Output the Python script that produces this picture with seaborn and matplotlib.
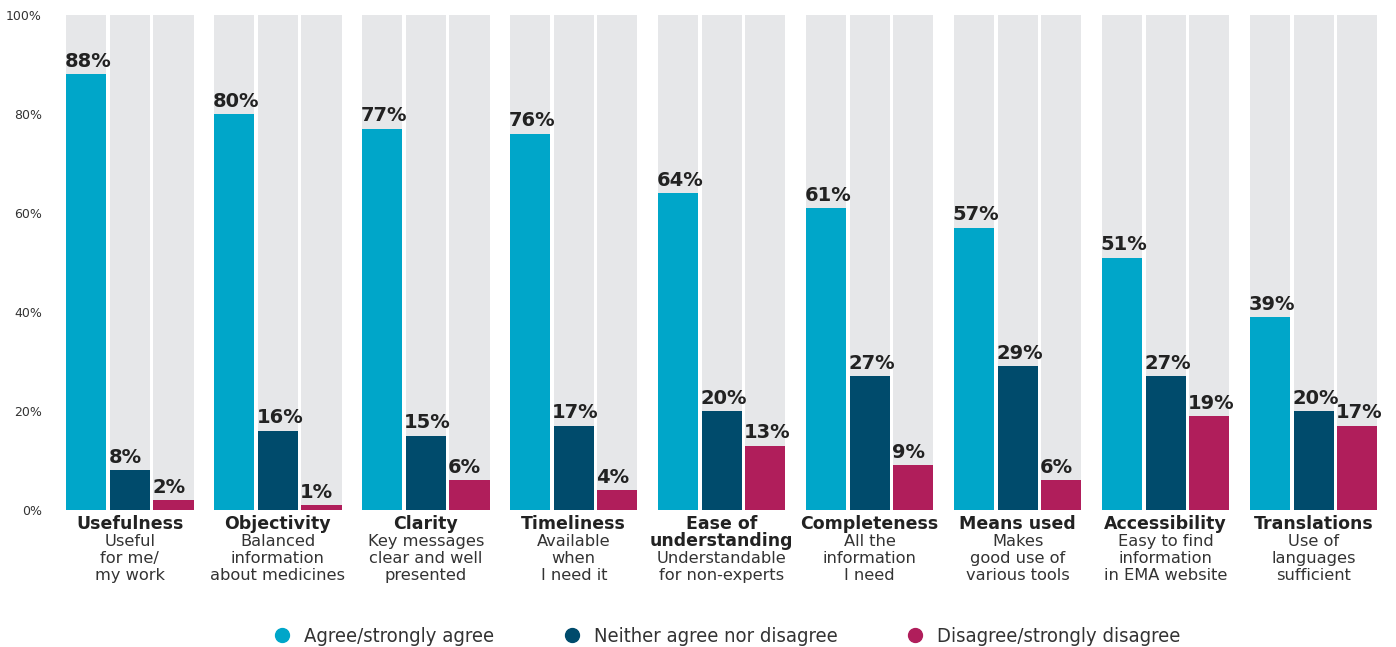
import matplotlib
matplotlib.use("Agg")
import matplotlib.pyplot as plt
from matplotlib.lines import Line2D
import seaborn as sns
import pandas as pd

# Survey results per quality aspect (% of respondents)
aspects = ["Usefulness", "Objectivity", "Clarity", "Timeliness",
           "Ease of understanding", "Completeness", "Means used",
           "Accessibility", "Translations"]
title_lines = [["Usefulness"], ["Objectivity"], ["Clarity"], ["Timeliness"],
               ["Ease of", "understanding"], ["Completeness"], ["Means used"],
               ["Accessibility"], ["Translations"]]
sub_lines = [["Useful", "for me/", "my work"],
             ["Balanced", "information", "about medicines"],
             ["Key messages", "clear and well", "presented"],
             ["Available", "when", "I need it"],
             ["Understandable", "for non-experts"],
             ["All the", "information", "I need"],
             ["Makes", "good use of", "various tools"],
             ["Easy to find", "information", "in EMA website"],
             ["Use of", "languages", "sufficient"]]
responses = ["Agree/strongly agree", "Neither agree nor disagree",
             "Disagree/strongly disagree"]
agree = [88, 80, 77, 76, 64, 61, 57, 51, 39]
neither = [8, 16, 15, 17, 20, 27, 29, 27, 20]
disagree = [2, 1, 6, 4, 13, 9, 6, 19, 17]
yticks = [0, 20, 40, 60, 80, 100]

colors = ["#00A6C9", "#004B6C", "#B01E5B"]
bg_color = "#E6E7E9"
text_color = "#222222"

rows = []
for i, a in enumerate(aspects):
    for r, vals in zip(responses, [agree, neither, disagree]):
        rows.append({"aspect": a, "response": r, "value": vals[i], "full": 100})
df = pd.DataFrame(rows)

sns.set_theme(style="white")
plt.rcParams["font.family"] = ["DejaVu Sans"]

fig = plt.figure(figsize=(13.96, 6.47), dpi=100)
ax = fig.add_axes([0.0400, 0.2117, 0.9540, 0.7651])

common = dict(data=df, x="aspect", hue="response", order=aspects,
              hue_order=responses, width=0.885, gap=0.08, ax=ax,
              saturation=1, linewidth=0)
sns.barplot(y="full", palette=[bg_color] * 3, legend=False, **common)
n_bg = len(ax.containers)
sns.barplot(y="value", palette=colors, legend=False, **common)

# value labels, left-aligned to each bar
for cont in ax.containers[n_bg:]:
    for patch in cont.patches:
        h = patch.get_height()
        ax.annotate(f"{h:.0f}%", (patch.get_x(), h), xytext=(-1, 2.5),
                    textcoords="offset points", ha="left", va="bottom",
                    fontsize=14, fontweight="bold", color=text_color)

ax.set_xlim(-0.5, len(aspects) - 0.5)
ax.set_ylim(0, 100)
ax.set_yticks(yticks)
ax.set_yticklabels([f"{t}%" for t in yticks], fontsize=9, color="#333333")
ax.tick_params(axis="y", length=0, pad=10)
ax.set_xticks([])
ax.set_xlabel("")
ax.set_ylabel("")
for s in ax.spines.values():
    s.set_visible(False)

# category labels below the bars
line_h = 17 / 495
trans = ax.get_xaxis_transform()
for i in range(len(aspects)):
    y = -14 / 495
    for t in title_lines[i]:
        ax.text(i, y, t, transform=trans, ha="center", va="center",
                fontsize=12.5, fontweight="bold", color=text_color)
        y -= line_h
    for t in sub_lines[i]:
        ax.text(i, y, t, transform=trans, ha="center", va="center",
                fontsize=11.7, color="#333333")
        y -= line_h

handles = [Line2D([0], [0], marker="o", linestyle="", markersize=10,
                  markerfacecolor=c, markeredgecolor=c) for c in colors]
fig.legend(handles, responses, loc="center", bbox_to_anchor=(0.5165, 0.016),
           ncol=3, frameon=False, columnspacing=2.85, handletextpad=0.1,
           prop={"family": "DejaVu Sans", "stretch": "condensed", "size": 14.5},
           labelcolor="#333333")

fig.savefig("out.png", dpi=100)
